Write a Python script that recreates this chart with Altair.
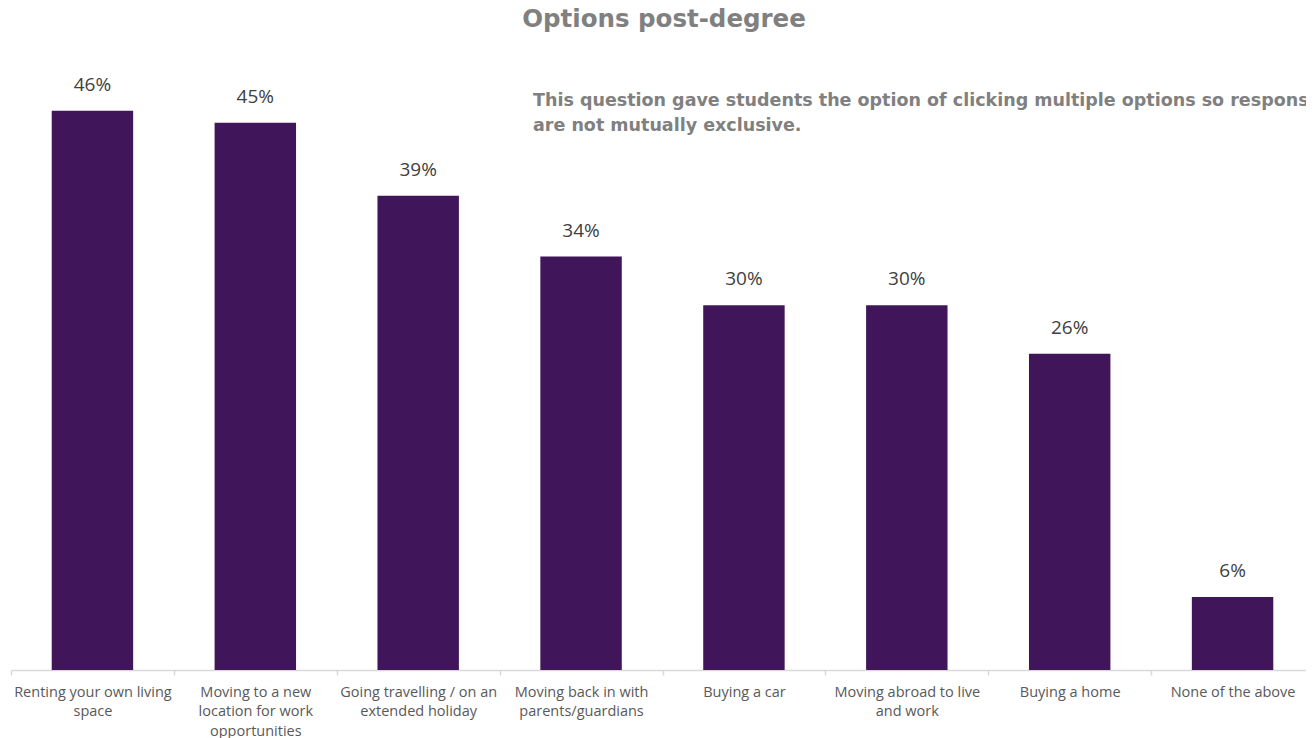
import altair as alt
import pandas as pd

categories = [
    "Renting your own living|space",
    "Moving to a new|location for work|opportunities",
    "Going travelling / on an|extended holiday",
    "Moving back in with|parents/guardians",
    "Buying a car",
    "Moving abroad to live|and work",
    "Buying a home",
    "None of the above",
]
values = [46, 45, 39, 34, 30, 30, 26, 6]
labels = ["46%", "45%", "39%", "34%", "30%", "30%", "26%", "6%"]

title_text = "Options post-degree"
note_lines = [
    "This question gave students the option of clicking multiple options so responses",
    "are not mutually exclusive.",
]

df = pd.DataFrame({"cat": categories, "val": values, "lab": labels})

W, H = 1303, 608

x = alt.X(
    "cat:N",
    sort=None,
    scale=alt.Scale(paddingInner=0, paddingOuter=0),
    axis=alt.Axis(
        title=None,
        labelAngle=0,
        labelExpr="split(datum.label, '|')",
        labelFont="Open Sans",
        labelFontSize=14.5,
        labelColor="#595959",
        labelLineHeight=19.5,
        labelPadding=10,
        labelLimit=200,
        tickBand="extent",
        tickSize=5,
        tickColor="#d9d9d9",
        domainColor="#d9d9d9",
        domainWidth=1.5,
        tickWidth=1.5,
        grid=False,
    ),
)
y = alt.Y("val:Q", scale=alt.Scale(domain=[0, 50]), axis=None)

bars = alt.Chart(df).mark_bar(color="#41155a", width=alt.RelativeBandSize(0.5)).encode(x=x, y=y)

text = alt.Chart(df).mark_text(
    font="Open Sans", fontSize=19, color="#404040", baseline="alphabetic", dy=-20
).encode(x=x, y=y, text="lab:N")

title = alt.Chart(pd.DataFrame({"t": [title_text]})).mark_text(
    font="DejaVu Sans", fontSize=24.5, fontWeight="bold", color="#808080", baseline="alphabetic", align="center"
).encode(x=alt.value(W / 2 + 1.5), y=alt.value(-35), text="t:N")

note = alt.Chart(pd.DataFrame({"t": [0]})).mark_text(
    font="DejaVu Sans", fontSize=17.5, fontWeight="bold", color="#808080", baseline="alphabetic", align="left",
    lineHeight=24.5,
).encode(x=alt.value(522), y=alt.value(44), text=alt.value(note_lines))

chart = (
    alt.layer(bars, text, title, note)
    .properties(
        width=W,
        height=H,
        autosize=alt.AutoSizeParams(type="none"),
        padding={"left": 3, "top": 54, "right": -8, "bottom": 72},
    )
    .configure(background="white")
    .configure_view(stroke="transparent")
)

chart.save("out.html", embed_options={"renderer": "svg", "actions": False})
